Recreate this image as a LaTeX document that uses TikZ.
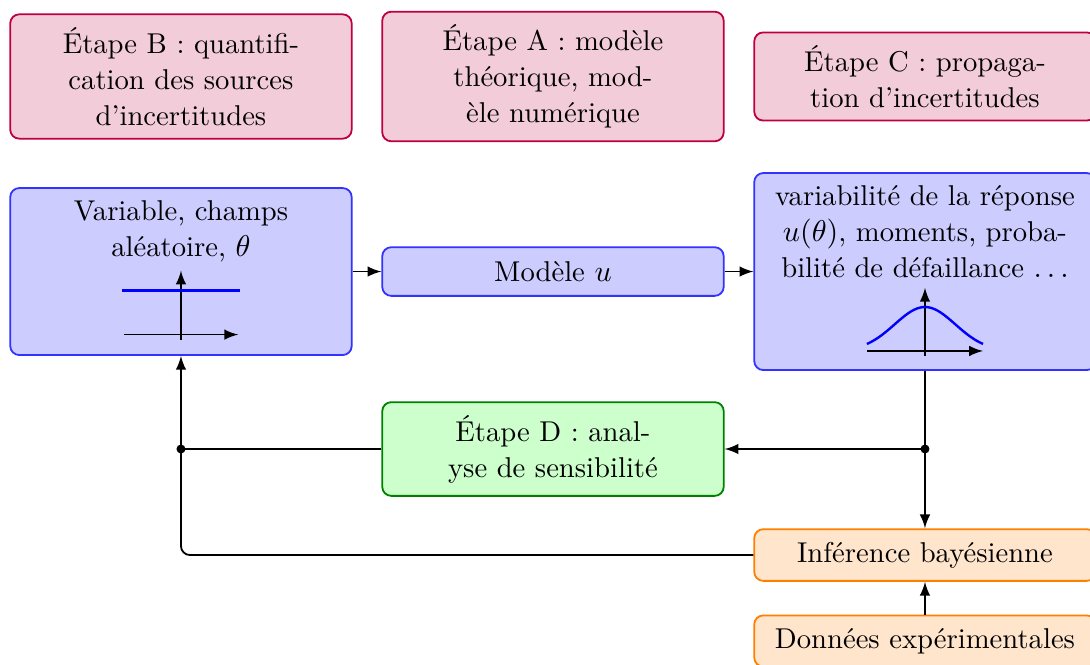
\documentclass[tikz,border=0pt]{standalone}
\usepackage{fontspec}
\usetikzlibrary{positioning}
\begin{document}
\begin{tikzpicture}

\def\STAGEDRAW{purple}
\def\STAGEFILL{purple!20}
\def\MODELDRAW{blue!80}
\def\MODELFILL{blue!20}
\def\SENSDRAW{green!50!black}
\def\SENSFILL{green!20}
\def\DATADRAW{orange}
\def\DATAFILL{orange!20}
\def\BOXFONT{\fontsize{9.55pt}{12.06pt}\selectfont}
\tikzset{
	box/.style 2 args={draw=#1, fill=#2, semithick, rounded corners=3pt, minimum width=4cm, text width=3.7cm, align=center, inner sep=1.5mm, font=\BOXFONT},
	boxtext/.style={text width=3.7cm, align=center, inner sep=1.5mm, font=\BOXFONT},
	flow/.style={-latex, semithick},
	link/.style={semithick},
	axis/.style={-latex, semithick},
	curve/.style={blue, thick},
}
	\useasboundingbox (0,0) rectangle (12.769,-7.779);

	% top row: stages
	\node[box={\STAGEDRAW}{\STAGEFILL}] (stageB) at (2.120,-0.896) {Étape B : quantifi-\\cation des sources\\d'incertitudes};
	\node[box={\STAGEDRAW}{\STAGEFILL}] (stageA) at (6.478,-0.896) {Étape A : modèle\\théorique, mod-\\èle numérique};
	\node[box={\STAGEDRAW}{\STAGEFILL}] (stageC) at (10.836,-0.896) {Étape C : propaga-\\tion d'incertitudes};

	% middle row
	\node[box={\MODELDRAW}{\MODELFILL}, minimum height=1.956cm] (var) at (2.120,-3.181) {};
	\node[boxtext, below=0pt of var.north] (vartext) {Variable, champs\\aléatoire, $\theta$};
	\node[box={\MODELDRAW}{\MODELFILL}, minimum height=0.57cm] (modele) at (6.478,-3.181) {Modèle $u$};
	\node[box={\MODELDRAW}{\MODELFILL}, minimum height=2.308cm] (reponse) at (10.836,-3.181) {};
	\node[boxtext, below=0pt of reponse.north] (reponsetext) {variabilité de la réponse\\$u(\theta)$, moments, proba-\\bilité de défaillance $\ldots$};

	\begin{scope}[shift={(var.south)}, yshift=0.25cm]
		\draw[axis] (-0.67,0) -- (0.67,0);
		\draw[axis] (0,-0.06) -- (0,0.75);
		\draw[curve] (-0.69,0.515) -- (0.69,0.515);
	\end{scope}
	\begin{scope}[shift={(reponse.south)}, yshift=0.234cm]
		\draw[axis] (-0.68,0) -- (0.68,0);
		\draw[axis] (0,-0.06) -- (0,0.74);
		\draw[curve, domain=-0.68:0.68, samples=40] plot (\x, {0.515*exp(-\x*\x/0.252)});
	\end{scope}

	% bottom part
	\node[box={\SENSDRAW}{\SENSFILL}] (sens) at (6.478,-5.260) {Étape D : anal-\\yse de sensibilité};
	\node[box={\DATADRAW}{\DATAFILL}] (inference) at (10.836,-6.502) {Inférence bayésienne};
	\node[box={\DATADRAW}{\DATAFILL}] (donnees) at (10.836,-7.509) {Données expérimentales};

	\coordinate (jright) at (reponse.south |- sens.east);
	\coordinate (jleft) at (var.south |- sens.west);

	% connectors
	\draw[flow] (var) -- (modele);
	\draw[flow] (modele) -- (reponse);
	\draw[link] (reponse) -- (jright);
	\draw[flow] (jright) -- (sens);
	\draw[flow] (jright) -- (inference);
	\draw[link] (sens) -- (jleft);
	\draw[flow, rounded corners=3pt] (inference.west) -| (var.south);
	\draw[flow] (donnees) -- (inference);
	\fill (jright) circle (1.5pt);
	\fill (jleft) circle (1.5pt);

\end{tikzpicture}
\end{document}
